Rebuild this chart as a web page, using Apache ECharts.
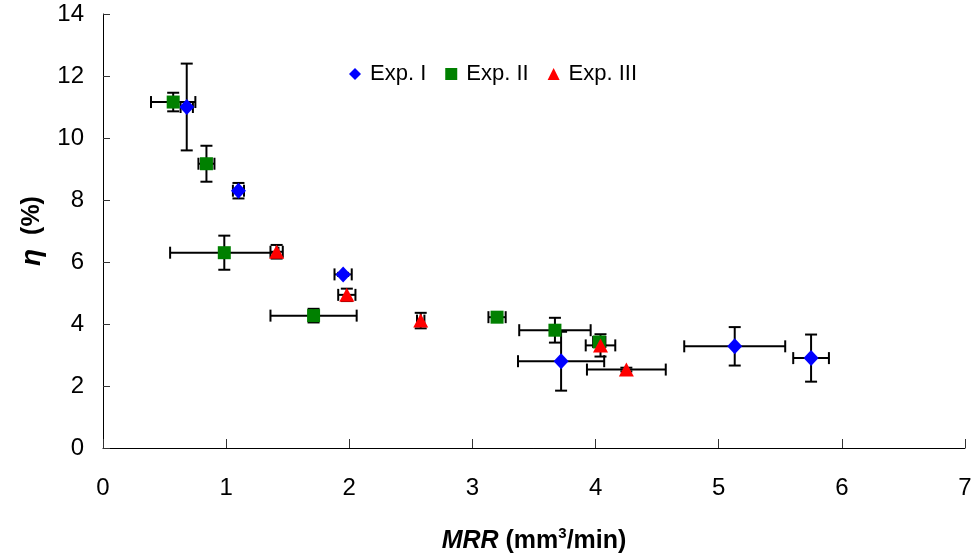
<!DOCTYPE html>
<html>
<head>
<meta charset="utf-8">
<script src="https://cdn.jsdelivr.net/npm/echarts@6/dist/echarts.min.js"></script>
<style>
  html, body { margin: 0; padding: 0; background: #fff; }
  #content { width: 977px; height: 559px; }
</style>
</head>
<body>
<div id="content"></div>
<script>
const seriesNames = ['Exp. I', 'Exp. II', 'Exp. III'];

const exp1X = [0.68, 1.10, 1.95, 3.72, 5.13, 5.75];
const exp1Y = [11.0, 8.30, 5.60, 2.80, 3.28, 2.90];
const exp1XErr = [0.05, 0.045, 0.07, 0.35, 0.41, 0.145];
const exp1YErr = [1.4, 0.25, 0.05, 0.95, 0.62, 0.76];

const exp2X = [0.57, 0.84, 0.985, 1.71, 3.20, 3.67, 4.03];
const exp2Y = [11.16, 9.17, 6.30, 4.27, 4.22, 3.80, 3.42];
const exp2XErr = [0.18, 0.065, 0.44, 0.35, 0.07, 0.29, 0.05];
const exp2YErr = [0.3, 0.58, 0.55, 0.22, 0.06, 0.4, 0.1];

const exp3X = [1.41, 1.98, 2.58, 4.04, 4.25];
const exp3Y = [6.33, 4.94, 4.11, 3.31, 2.53];
const exp3XErr = [0.05, 0.07, 0.03, 0.12, 0.32];
const exp3YErr = [0.22, 0.2, 0.25, 0.36, 0.06];

const colors = ['#0000ff', '#008000', '#ff0000'];
const symbols = ['diamond', 'rect', 'triangle'];
const symbolSizes = [[15, 16], 13, [15, 14]];

const groups = [
  [exp1X, exp1Y, exp1XErr, exp1YErr],
  [exp2X, exp2Y, exp2XErr, exp2YErr],
  [exp3X, exp3Y, exp3XErr, exp3YErr]
];

const CAP = 6;
function errorBars(params, api) {
  const x = api.value(0), y = api.value(1);
  const dx = api.value(2), dy = api.value(3);
  const l = api.coord([x - dx, y]), r = api.coord([x + dx, y]);
  const t = api.coord([x, y + dy]), b = api.coord([x, y - dy]);
  const style = { stroke: '#000', lineWidth: 2 };
  const line = (x1, y1, x2, y2) => ({
    type: 'line', shape: { x1, y1, x2, y2 }, style
  });
  return {
    type: 'group',
    children: [
      line(l[0], l[1], r[0], r[1]),
      line(l[0], l[1] - CAP, l[0], l[1] + CAP),
      line(r[0], r[1] - CAP, r[0], r[1] + CAP),
      line(t[0], t[1], b[0], b[1]),
      line(t[0] - CAP, t[1], t[0] + CAP, t[1]),
      line(b[0] - CAP, b[1], b[0] + CAP, b[1])
    ]
  };
}

const series = [];
groups.forEach((g, i) => {
  series.push({
    type: 'custom',
    renderItem: errorBars,
    data: g[0].map((x, k) => [x, g[1][k], g[2][k], g[3][k]]),
    z: 1,
    silent: true
  });
});
groups.forEach((g, i) => {
  series.push({
    name: seriesNames[i],
    type: 'scatter',
    symbol: symbols[i],
    symbolSize: symbolSizes[i],
    itemStyle: { color: colors[i], opacity: 1 },
    data: g[0].map((x, k) => [x, g[1][k]]),
    z: 3
  });
});

const chart = echarts.init(document.getElementById('content'));
chart.setOption({
  animation: false,
  textStyle: { fontFamily: 'Liberation Sans' },
  grid: { left: 103, right: 12, top: 14, bottom: 108 },
  legend: {
    data: seriesNames.map((n, i) => ({ name: n, icon: symbols[i] })),
    left: 344,
    top: 58,
    itemWidth: 12,
    itemHeight: 12,
    itemGap: 19,
    textStyle: { fontSize: 22, color: '#000', padding: [0, 0, 0, 4] }
  },
  xAxis: {
    type: 'value',
    min: 0, max: 7, interval: 1,
    axisLine: { lineStyle: { color: '#000', width: 1 } },
    axisTick: { inside: true, length: 9, lineStyle: { color: '#333' } },
    axisLabel: { color: '#000', fontSize: 24, margin: 28 },
    splitLine: { show: false },
    name: '{i|MRR} (mm{s|3}/min)',
    nameLocation: 'middle',
    nameGap: 78,
    nameTextStyle: {
      color: '#000', fontSize: 25, fontWeight: 'bold',
      rich: {
        i: { fontSize: 25, fontWeight: 'bold', fontStyle: 'italic', color: '#000' },
        s: { fontSize: 15, fontWeight: 'bold', color: '#000', verticalAlign: 'top', padding: [0, 0, 16, 0] }
      }
    }
  },
  yAxis: {
    type: 'value',
    min: 0, max: 14, interval: 2,
    axisLine: { show: true, lineStyle: { color: '#000', width: 1 } },
    axisTick: { show: true, inside: true, length: 7, lineStyle: { color: '#333' } },
    axisLabel: { color: '#000', fontSize: 24, margin: 19 },
    splitLine: { show: false },
    name: '{i|η}  (%)',
    nameLocation: 'middle',
    nameRotate: 90,
    nameGap: 50,
    nameTextStyle: {
      color: '#000', fontSize: 25, fontWeight: 'bold',
      rich: {
        i: { fontSize: 28, fontWeight: 'bold', fontStyle: 'italic', color: '#000' }
      }
    }
  },
  series: series
});
</script>
</body>
</html>
